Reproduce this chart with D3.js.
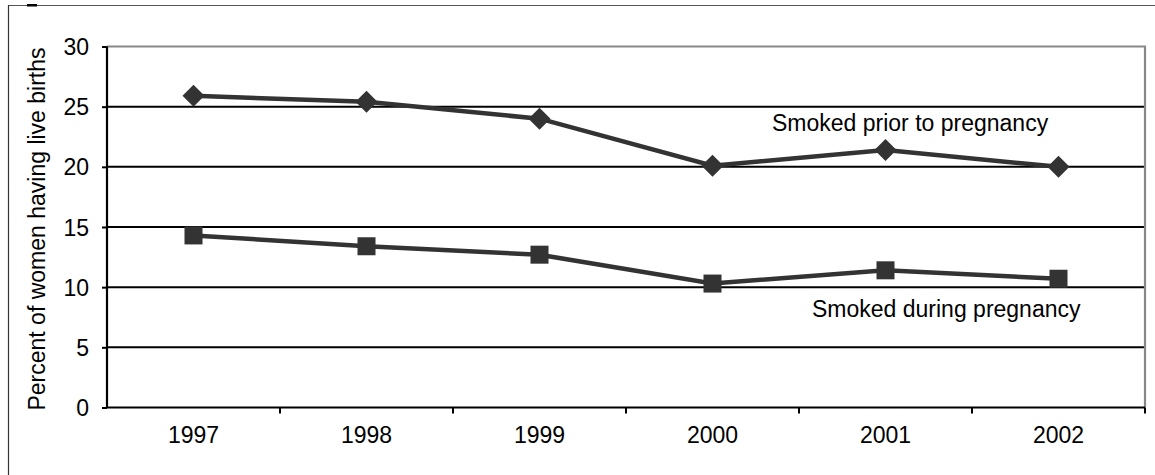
<!DOCTYPE html>
<html><head><meta charset="utf-8">
<script src="https://cdn.jsdelivr.net/npm/d3@7"></script>
<style>body{margin:0;background:#fff}svg{display:block}text{font-family:"Liberation Sans",Arial,sans-serif;fill:#000}</style>
</head><body><svg id="c" width="1155" height="475"></svg>
<script>
const years = ["1997","1998","1999","2000","2001","2002"];
const priorValues = [25.9, 25.4, 24.0, 20.1, 21.4, 20.0];
const duringValues = [14.3, 13.4, 12.7, 10.3, 11.4, 10.7];
const yTicks = [0,5,10,15,20,25,30];
const seriesLabels = ["Smoked prior to pregnancy","Smoked during pregnancy"];
const yTitle = "Percent of women having live births";

const FS = 23;
const svg = d3.select("#c");
const L=107,R=1145,T=46.5,B=407.5;
// outer frame
svg.append("line").attr("x1",8).attr("x2",1155).attr("y1",5.5).attr("y2",5.5).attr("stroke","#555").attr("stroke-width",1.2);
svg.append("line").attr("x1",8.5).attr("x2",8.5).attr("y1",5).attr("y2",475).attr("stroke","#333").attr("stroke-width",1.2);
svg.append("rect").attr("x",27).attr("y",4).attr("width",10).attr("height",2.5).attr("fill","#000");

const x = d3.scaleBand().domain(years).range([L,R]);
const y = d3.scaleLinear().domain([0,30]).range([B,T]);

// gridlines
svg.append("g").selectAll("line").data(yTicks.filter(d=>d>0&&d<30)).join("line")
 .attr("x1",L).attr("x2",R).attr("y1",d=>y(d)).attr("y2",d=>y(d)).attr("stroke","#000").attr("stroke-width",2);
// plot border top/right gray
svg.append("path").attr("d",`M${L},${y(30)}H${R}V${B}`).attr("fill","none").attr("stroke","#888").attr("stroke-width",2.2);

// y axis
const ya = svg.append("g").attr("transform",`translate(${L},0)`).call(d3.axisLeft(y).tickValues(yTicks).tickSize(5).tickPadding(13));
ya.attr("font-size",FS).attr("font-family",null);
ya.select(".domain").attr("stroke","#000").attr("stroke-width",2.2).attr("d",`M0,${T}V${B}`);
ya.selectAll(".tick line").attr("stroke","#000").attr("stroke-width",2);
ya.selectAll(".tick text").attr("fill","#000").attr("dy","0.35em");

// x axis
const xa = svg.append("g").attr("transform",`translate(0,${B})`).call(d3.axisBottom(x).tickSize(0).tickPadding(19.5));
xa.attr("font-size",FS).attr("font-family",null);
xa.select(".domain").attr("stroke","#000").attr("stroke-width",2.2).attr("d",`M${L},0H${R}`);
xa.selectAll(".tick text").attr("fill","#000");
svg.append("g").selectAll("line").data(years.map(d=>x(d)).slice(1).concat([R])).join("line")
 .attr("x1",d=>d).attr("x2",d=>d).attr("y1",B).attr("y2",B+6).attr("stroke","#000").attr("stroke-width",2);

// title
svg.append("text").attr("transform",`translate(45,229) rotate(-90)`).attr("text-anchor","middle")
 .attr("font-size",FS).text(yTitle);

const cx = d=>x(d)+x.bandwidth()/2;
const line = d3.line().x((d,i)=>cx(years[i])).y(d=>y(d));
[priorValues,duringValues].forEach(v=>{
  svg.append("path").attr("d",line(v)).attr("fill","none").attr("stroke","#333").attr("stroke-width",4.5);
});
svg.append("g").selectAll("path").data(priorValues).join("path")
 .attr("transform",(d,i)=>`translate(${cx(years[i])},${y(d)})`)
 .attr("d","M0,-11L11,0L0,11L-11,0Z").attr("fill","#333");
svg.append("g").selectAll("rect").data(duringValues).join("rect")
 .attr("x",(d,i)=>cx(years[i])-9).attr("y",d=>y(d)-9).attr("width",18).attr("height",18).attr("fill","#333");

svg.append("text").attr("x",772).attr("y",131).attr("font-size",FS).text(seriesLabels[0]);
svg.append("text").attr("x",812).attr("y",317).attr("font-size",FS).text(seriesLabels[1]);
</script></body></html>
